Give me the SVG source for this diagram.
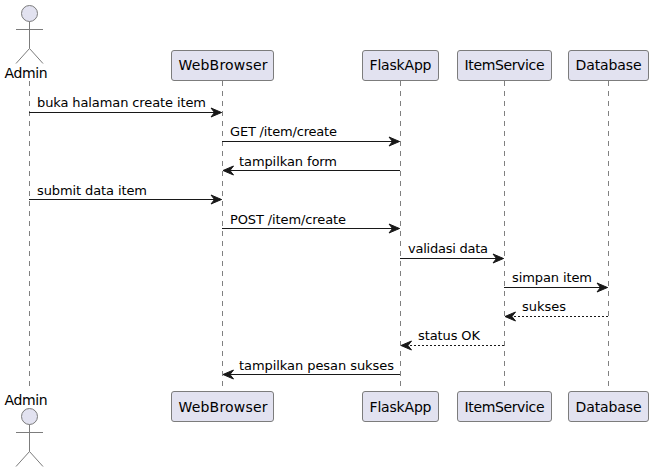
<svg xmlns="http://www.w3.org/2000/svg" width="653" height="472" viewBox="0 0 653 472">
<defs>
<marker id="head" markerUnits="userSpaceOnUse" markerWidth="14" markerHeight="12" refX="12" refY="6" orient="auto"><path d="M1.500,1.500 L12,6 L1.500,10.500 L5,6 Z" fill="#181818" stroke="#181818" stroke-width="1"/></marker>
</defs>
<style>
text{font-family:"DejaVu Sans",sans-serif;fill:#000}
.p{font-size:14px}
.m{font-size:13px}
.life{stroke:#808080;stroke-width:1;stroke-dasharray:5,5;fill:none}
.box{fill:#E2E2F0;stroke:#7c7c7c;stroke-width:1}
.act{fill:#E2E2F0;stroke:#7c7c7c;stroke-width:1}
.stick{fill:none;stroke:#7c7c7c;stroke-width:1}
.line{stroke:#181818;stroke-width:1;fill:none;marker-end:url(#head)}
.dash{stroke:#181818;stroke-width:1;fill:none;stroke-dasharray:2,2;marker-end:url(#head)}
</style>
<g id="connectors">
<line class="life" x1="29.500" y1="81" x2="29.500" y2="391"/>
<line class="life" x1="222.500" y1="81" x2="222.500" y2="391"/>
<line class="life" x1="400.500" y1="81" x2="400.500" y2="391"/>
<line class="life" x1="504.500" y1="81" x2="504.500" y2="391"/>
<line class="life" x1="608.500" y1="81" x2="608.500" y2="391"/>
<line class="line" x1="29" y1="112.500" x2="221.500" y2="112.500"/>
<line class="line" x1="222" y1="141.500" x2="399.500" y2="141.500"/>
<line class="line" x1="400" y1="170.500" x2="223" y2="170.500"/>
<line class="line" x1="29" y1="199.500" x2="221.500" y2="199.500"/>
<line class="line" x1="222" y1="228.500" x2="399.500" y2="228.500"/>
<line class="line" x1="400" y1="258.500" x2="503.500" y2="258.500"/>
<line class="line" x1="504" y1="287.500" x2="607.500" y2="287.500"/>
<line class="dash" x1="608" y1="316.500" x2="505" y2="316.500"/>
<line class="dash" x1="504" y1="345.500" x2="401" y2="345.500"/>
<line class="line" x1="400" y1="374.500" x2="223" y2="374.500"/>
<text class="m" x="37" y="107" textLength="169">buka halaman create item</text>
<text class="m" x="230" y="136" textLength="107">GET /item/create</text>
<text class="m" x="239" y="166" textLength="98">tampilkan form</text>
<text class="m" x="37" y="195" textLength="110">submit data item</text>
<text class="m" x="230" y="224" textLength="116">POST /item/create</text>
<text class="m" x="408" y="253" textLength="80">validasi data</text>
<text class="m" x="512" y="282" textLength="80">simpan item</text>
<text class="m" x="522" y="311" textLength="44">sukses</text>
<text class="m" x="418" y="340" textLength="62">status OK</text>
<text class="m" x="239" y="370" textLength="155">tampilkan pesan sukses</text>
</g>
<g id="admin-top">
<circle class="act" cx="29.500" cy="13.500" r="8"/>
<path class="stick" d="M29.500,21.500V48.500M16,29.500H43M29.500,48.500L16,63.500M29.500,48.500L43,63.500"/>
<text class="p" x="4.500" y="78" textLength="43">Admin</text>
</g>
<g id="admin-bottom">
<text class="p" x="4.500" y="405" textLength="43">Admin</text>
<circle class="act" cx="29.500" cy="416.500" r="8"/>
<path class="stick" d="M29.500,424.500V451.500M16,432.500H43M29.500,451.500L16,466.500M29.500,451.500L43,466.500"/>
</g>
<g id="webbrowser-top"><rect class="box" x="171.500" y="50.500" width="102" height="30" rx="2.500"/><text class="p" x="178.500" y="70" textLength="89">WebBrowser</text></g>
<g id="flaskapp-top"><rect class="box" x="362.500" y="50.500" width="76" height="30" rx="2.500"/><text class="p" x="369.500" y="70" textLength="62">FlaskApp</text></g>
<g id="itemservice-top"><rect class="box" x="457.500" y="50.500" width="94" height="30" rx="2.500"/><text class="p" x="464.500" y="70" textLength="80">ItemService</text></g>
<g id="database-top"><rect class="box" x="568.500" y="50.500" width="80" height="30" rx="2.500"/><text class="p" x="575.500" y="70" textLength="66">Database</text></g>
<g id="webbrowser-bottom"><rect class="box" x="171.500" y="391.500" width="102" height="30" rx="2.500"/><text class="p" x="178.500" y="412" textLength="89">WebBrowser</text></g>
<g id="flaskapp-bottom"><rect class="box" x="362.500" y="391.500" width="76" height="30" rx="2.500"/><text class="p" x="369.500" y="412" textLength="62">FlaskApp</text></g>
<g id="itemservice-bottom"><rect class="box" x="457.500" y="391.500" width="94" height="30" rx="2.500"/><text class="p" x="464.500" y="412" textLength="80">ItemService</text></g>
<g id="database-bottom"><rect class="box" x="568.500" y="391.500" width="80" height="30" rx="2.500"/><text class="p" x="575.500" y="412" textLength="66">Database</text></g>
</svg>
